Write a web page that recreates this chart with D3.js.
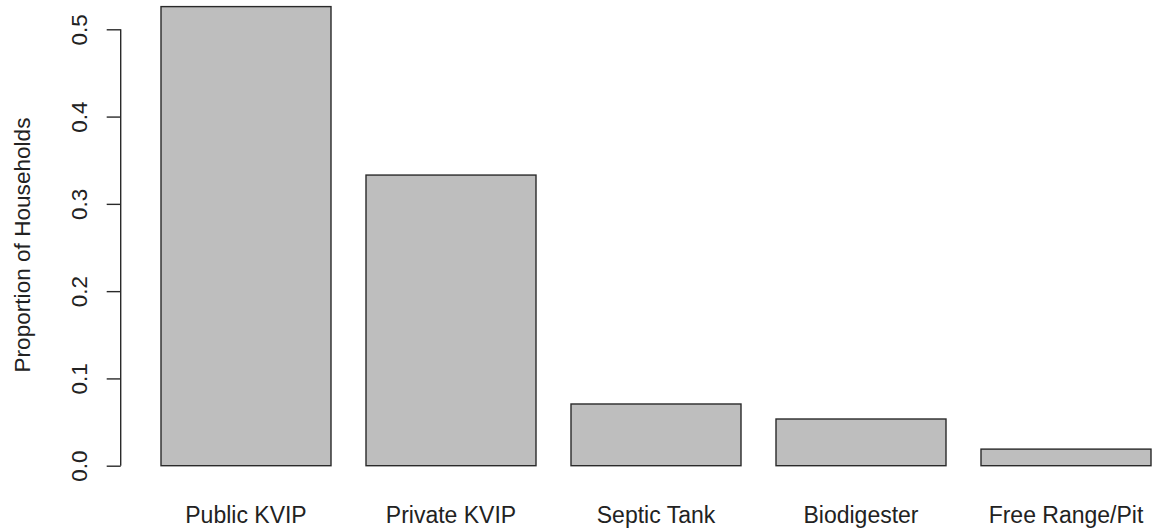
<!DOCTYPE html>
<html>
<head>
<meta charset="utf-8">
<script src="https://cdn.jsdelivr.net/npm/d3@7"></script>
<style>
  html, body { margin: 0; padding: 0; background: #ffffff; }
  svg { display: block; }
  text { font-family: "Liberation Sans", Arial, sans-serif; fill: #222; }
</style>
</head>
<body>
<svg id="chart" width="1155" height="528"></svg>
<script>
const categories = ["Public KVIP", "Private KVIP", "Septic Tank", "Biodigester", "Free Range/Pit"];
const values = [0.526, 0.333, 0.0707, 0.0535, 0.019];
const yTicks = [0.0, 0.1, 0.2, 0.3, 0.4, 0.5];
const yTitle = "Proportion of Households";

const svg = d3.select("#chart");
const axisX = 120.7;
const fontSize = 23;

const y = d3.scaleLinear().domain([0, 0.5]).range([465.7, 29.3]);
const x = d3.scaleBand().domain(categories).range([161, 1151]).paddingInner(35 / 205).paddingOuter(0);

// bars
svg.append("g").selectAll("rect")
  .data(categories.map((c, i) => ({ c, v: values[i] })))
  .join("rect")
  .attr("x", d => x(d.c))
  .attr("y", d => y(d.v))
  .attr("width", x.bandwidth())
  .attr("height", d => y(0) - y(d.v))
  .attr("fill", "#bebebe")
  .attr("stroke", "#2a2a2a")
  .attr("stroke-width", 1.4);

// y axis
const yAxis = d3.axisLeft(y).tickValues(yTicks).tickSize(14).tickSizeOuter(0).tickFormat(d3.format(".1f"));
const gy = svg.append("g").attr("transform", `translate(${axisX},0)`).call(yAxis);
gy.select(".domain").attr("stroke", "#2a2a2a").attr("stroke-width", 1.4).attr("d", `M0,${y(0)}V${y(0.5)}`);
gy.selectAll(".tick line").attr("stroke", "#2a2a2a").attr("stroke-width", 1.4);
gy.selectAll(".tick text")
  .attr("transform", "rotate(-90)")
  .attr("x", 0)
  .attr("y", 87 - axisX)
  .attr("dy", null)
  .attr("text-anchor", "middle")
  .attr("font-family", "Liberation Sans, Arial, sans-serif")
  .attr("font-size", 22.5)
  .attr("fill", "#333");

// y title
svg.append("text")
  .attr("transform", `translate(30,245) rotate(-90)`)
  .attr("text-anchor", "middle")
  .attr("font-size", 22.6)
  .attr("fill", "#333")
  .text(yTitle);

// category labels
svg.append("g").selectAll("text")
  .data(categories)
  .join("text")
  .attr("x", d => x(d) + x.bandwidth() / 2)
  .attr("y", 522.5)
  .attr("text-anchor", "middle")
  .attr("font-size", fontSize)
  .attr("fill", "#222")
  .text(d => d);
</script>
</body>
</html>
